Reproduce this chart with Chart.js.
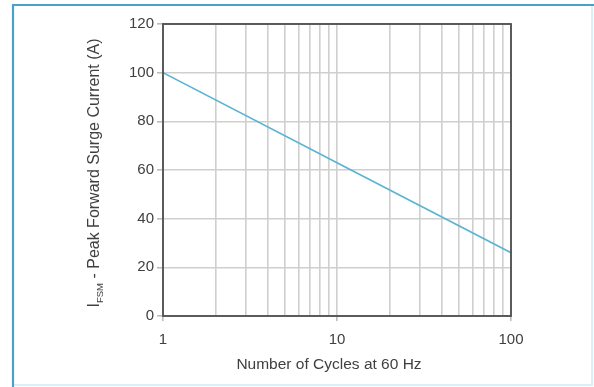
<!DOCTYPE html>
<html>
<head>
<meta charset="utf-8">
<script src="https://cdn.jsdelivr.net/npm/chart.js@4/dist/chart.umd.min.js"></script>
<style>
  html, body { margin: 0; padding: 0; background: #ffffff; }
  #wrap { width: 594px; height: 387px; position: relative; }
</style>
</head>
<body>
<div id="wrap"><canvas id="c" width="594" height="387"></canvas></div>
<script>
// Surge current rating versus number of 60 Hz cycles
const cycles = [1, 10, 100];
const surgeCurrent = [100, 63, 26];
const xTickLabels = [1, 10, 100];
const yTicks = [0, 20, 40, 60, 80, 100, 120];

const FONT = "'Liberation Sans', Arial, sans-serif";
const TEXT = '#404040';

const points = cycles.map((c, i) => ({ x: c, y: surgeCurrent[i] }));

// Outer panel frame, plot box and axis titles
const decor = {
  id: 'decor',
  beforeDraw(chart) {
    const ctx = chart.ctx;
    ctx.save();
    ctx.fillStyle = '#ffffff';
    ctx.fillRect(0, 0, chart.width, chart.height);
    // faint lower / right edges
    ctx.strokeStyle = '#d4f2f8';
    ctx.lineWidth = 2;
    ctx.beginPath();
    ctx.moveTo(13, 385);
    ctx.lineTo(592, 385);
    ctx.lineTo(592, 5);
    ctx.stroke();
    // stronger upper / left edges
    ctx.strokeStyle = '#4aa2cb';
    ctx.lineWidth = 2.2;
    ctx.beginPath();
    ctx.moveTo(13, 387);
    ctx.lineTo(13, 5);
    ctx.lineTo(594, 5);
    ctx.stroke();
    ctx.restore();
  },
  afterDatasetsDraw(chart) {
    const { ctx, chartArea: a } = chart;
    ctx.save();
    ctx.strokeStyle = '#4d4d4d';
    ctx.lineWidth = 1.8;
    ctx.strokeRect(a.left, a.top, a.right - a.left, a.bottom - a.top);

    // x-axis title
    ctx.fillStyle = TEXT;
    ctx.font = '15.5px ' + FONT;
    ctx.textAlign = 'center';
    ctx.textBaseline = 'middle';
    ctx.fillText('Number of Cycles at 60 Hz', 329, 365);

    // y-axis title with subscript
    ctx.translate(95, 173);
    ctx.rotate(-Math.PI / 2);
    const big = '16px ' + FONT;
    const small = '9.5px ' + FONT;
    const p1 = 'I', sub = 'FSM', p2 = ' - Peak Forward Surge Current (A)';
    ctx.font = big;
    const w1 = ctx.measureText(p1).width;
    const w3 = ctx.measureText(p2).width;
    ctx.font = small;
    const w2 = ctx.measureText(sub).width;
    let x = -(w1 + w2 + w3) / 2;
    ctx.textAlign = 'left';
    ctx.textBaseline = 'middle';
    ctx.font = big;
    ctx.fillText(p1, x, 0);
    x += w1;
    ctx.font = small;
    ctx.fillText(sub, x, 5);
    x += w2;
    ctx.font = big;
    ctx.fillText(p2, x, 0);
    ctx.restore();
  }
};

new Chart(document.getElementById('c'), {
  type: 'scatter',
  data: {
    datasets: [{
      data: points,
      showLine: true,
      borderColor: '#5ab4d2',
      borderWidth: 1.6,
      pointRadius: 0,
      fill: false,
      tension: 0
    }]
  },
  options: {
    responsive: false,
    animation: false,
    events: [],
    layout: { padding: { left: 0, top: 24, right: 83, bottom: 0 } },
    plugins: { legend: { display: false }, tooltip: { enabled: false } },
    scales: {
      x: {
        type: 'logarithmic',
        min: 1,
        max: 100,
        afterFit(s) { s.height = 71; },
        afterBuildTicks(s) {
          const t = [];
          for (let d = 1; d <= 10; d *= 10) {
            for (let m = 1; m <= 9; m++) t.push({ value: m * d });
          }
          t.push({ value: 100 });
          s.ticks = t;
        },
        grid: {
          color: '#cfcfcf',
          lineWidth: 1.6,
          drawTicks: true,
          tickLength: 5,
          tickColor: (c) => xTickLabels.includes(c.tick && c.tick.value) ? '#bdbdbd' : 'rgba(0,0,0,0)'
        },
        border: { display: false },
        ticks: {
          autoSkip: false,
          maxRotation: 0,
          padding: 10,
          color: TEXT,
          font: { family: FONT, size: 15 },
          callback: (v) => xTickLabels.includes(v) ? String(v) : ''
        }
      },
      y: {
        type: 'linear',
        min: 0,
        max: 120,
        afterFit(s) { s.width = 163; },
        afterBuildTicks(s) { s.ticks = yTicks.map(v => ({ value: v })); },
        grid: {
          color: '#cfcfcf',
          lineWidth: 1.6,
          tickLength: 6,
          tickColor: '#bdbdbd'
        },
        border: { display: false },
        ticks: {
          padding: 3,
          color: TEXT,
          font: { family: FONT, size: 15 }
        }
      }
    }
  },
  plugins: [decor]
});
</script>
</body>
</html>
